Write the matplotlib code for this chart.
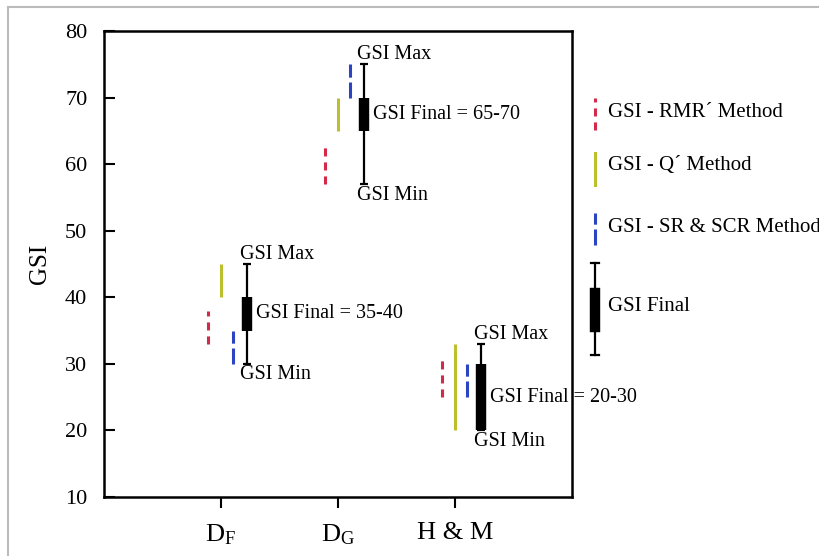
import matplotlib
matplotlib.use('Agg')
import matplotlib.pyplot as plt
from matplotlib.lines import Line2D

plt.rcParams['font.family'] = ['Liberation Serif', 'DejaVu Serif']
plt.rcParams['mathtext.fontset'] = 'custom'
plt.rcParams['mathtext.rm'] = 'Liberation Serif'
plt.rcParams['mathtext.it'] = 'Liberation Serif:italic'
plt.rcParams['lines.scale_dashes'] = False

# Data
groups = ['D$_\\mathrm{F}$', 'D$_\\mathrm{G}$', 'H & M']
x_pos = [1, 2, 3]
rmr_low = [33, 57, 25]
rmr_high = [38, 63, 31]
q_low = [40, 65, 20]
q_high = [45, 70, 33]
sr_low = [30, 70, 25]
sr_high = [35, 75, 30]
final_min = [30, 57, 20]
final_max = [45, 75, 33]
final_low = [35, 65, 20]
final_high = [40, 70, 30]
final_text = ['35-40', '65-70', '20-30']

red = '#d42a4a'
yellow = '#bcc02c'
blue = '#2a44c4'

fig = plt.figure(figsize=(8.2, 5.56), dpi=100)
ax = fig.add_axes([0.1268, 0.1061, 0.5707, 0.838])

red_dash = (0, (5.8, 4.3))
blue_dash = (0, (11.5, 3.5))

for i, x in enumerate(x_pos):
    ax.vlines(x - 0.11, rmr_low[i], rmr_high[i], color=red, lw=2.2, linestyles=[red_dash])
    ax.vlines(x, q_low[i], q_high[i], color=yellow, lw=2.2)
    ax.vlines(x + 0.10, sr_low[i], sr_high[i], color=blue, lw=2.2, linestyles=[blue_dash])
    xf = x + 0.22
    ax.vlines(xf, final_min[i], final_max[i], color='black', lw=1.6)
    ax.hlines([final_min[i], final_max[i]], xf - 0.035, xf + 0.035, color='black', lw=1.6)
    ax.vlines(xf, final_low[i], final_high[i], color='black', lw=7.5)
    ax.annotate('GSI Max', (xf, final_max[i]), xytext=(-5, 0), textcoords='offset points',
                ha='left', va='bottom', fontsize=14.5)
    ax.annotate('GSI Min', (xf, final_min[i]), xytext=(-5, -1), textcoords='offset points',
                ha='left', va='top', fontsize=14.5)
    ax.annotate('GSI Final = ' + final_text[i], (xf, (final_low[i] + final_high[i]) / 2),
                xytext=(7, 0), textcoords='offset points', ha='left', va='center', fontsize=14.5)

ax.set_xlim(0, 4)
ax.set_ylim(10, 80)
ax.set_xticks(x_pos)
ax.set_xticklabels(groups, fontsize=19)
ax.set_yticks(range(10, 81, 10))
ax.tick_params(axis='y', direction='in', length=8, width=1.5, labelsize=16, pad=12)
ax.tick_params(axis='x', direction='out', length=8, width=1.5, pad=10)
ax.set_ylabel('GSI', fontsize=18, labelpad=10)
for s in ax.spines.values():
    s.set_linewidth(1.8)

# hand-drawn legend at the right of the plot
lx = 1.049
tr = ax.transAxes
ax.add_line(Line2D([lx, lx], [0.788, 0.856], transform=tr, color=red, lw=2.2,
                   linestyle=red_dash, clip_on=False))
ax.add_line(Line2D([lx, lx], [0.670, 0.738], transform=tr, color=yellow, lw=2.2, clip_on=False))
ax.add_line(Line2D([lx, lx], [0.541, 0.609], transform=tr, color=blue, lw=2.2,
                   linestyle=blue_dash, clip_on=False))
ax.add_line(Line2D([lx, lx], [0.305, 0.502], transform=tr, color='black', lw=1.6, clip_on=False))
for yy in (0.305, 0.502):
    ax.add_line(Line2D([lx - 0.009, lx + 0.009], [yy, yy], transform=tr, color='black',
                       lw=1.6, clip_on=False))
ax.add_line(Line2D([lx, lx], [0.365, 0.438], transform=tr, color='black', lw=7.5, clip_on=False))
labels = ['GSI - RMR\u00b4 Method', 'GSI - Q\u00b4 Method', 'GSI - SR & SCR Method', 'GSI Final']
for txt, yy in zip(labels, [0.826, 0.712, 0.579, 0.408]):
    ax.text(1.077, yy, txt, transform=tr, ha='left', va='center', fontsize=15)

# thin gray frame around the figure
fig.add_artist(Line2D([8 / 820, 8 / 820], [0, 1 - 7 / 556], color='#bbbbbb', lw=1.5))
fig.add_artist(Line2D([8 / 820, 1], [1 - 7 / 556, 1 - 7 / 556], color='#bbbbbb', lw=1.5))

fig.savefig('out.png', dpi=100)
